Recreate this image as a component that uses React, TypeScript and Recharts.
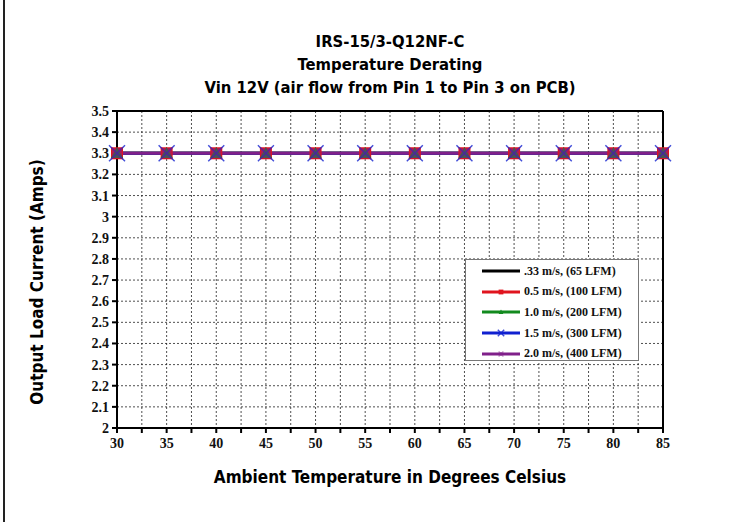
import React from "react";
import {
  LineChart,
  Line,
  XAxis,
  YAxis,
  CartesianGrid,
  Legend,
  ReferenceLine,
} from "recharts";

const temps = [30, 35, 40, 45, 50, 55, 60, 65, 70, 75, 80, 85];
const flow033 = [3.3, 3.3, 3.3, 3.3, 3.3, 3.3, 3.3, 3.3, 3.3, 3.3, 3.3, 3.3];
const flow05 = [3.3, 3.3, 3.3, 3.3, 3.3, 3.3, 3.3, 3.3, 3.3, 3.3, 3.3, 3.3];
const flow10 = [3.3, 3.3, 3.3, 3.3, 3.3, 3.3, 3.3, 3.3, 3.3, 3.3, 3.3, 3.3];
const flow15 = [3.3, 3.3, 3.3, 3.3, 3.3, 3.3, 3.3, 3.3, 3.3, 3.3, 3.3, 3.3];
const flow20 = [3.3, 3.3, 3.3, 3.3, 3.3, 3.3, 3.3, 3.3, 3.3, 3.3, 3.3, 3.3];

const xTicks = [30, 32.5, 35, 37.5, 40, 42.5, 45, 47.5, 50, 52.5, 55, 57.5, 60, 62.5, 65, 67.5, 70, 72.5, 75, 77.5, 80, 82.5, 85];
const yTicks = [2, 2.1, 2.2, 2.3, 2.4, 2.5, 2.6, 2.7, 2.8, 2.9, 3, 3.1, 3.2, 3.3, 3.4, 3.5];
const yMinorTicks = [2, 2.05, 2.1, 2.15, 2.2, 2.25, 2.3, 2.35, 2.4, 2.45, 2.5, 2.55, 2.6, 2.65, 2.7, 2.75, 2.8, 2.85, 2.9, 2.95, 3, 3.05, 3.1, 3.15, 3.2, 3.25, 3.3, 3.35, 3.4, 3.45, 3.5];

const series = [
  { key: "s033", name: ".33 m/s, (65 LFM)", color: "#000000", values: flow033, marker: "dot" },
  { key: "s05", name: "0.5 m/s, (100 LFM)", color: "#e0141e", values: flow05, marker: "square" },
  { key: "s10", name: "1.0 m/s, (200 LFM)", color: "#128a1e", values: flow10, marker: "triangle" },
  { key: "s15", name: "1.5 m/s, (300 LFM)", color: "#1020d0", values: flow15, marker: "cross" },
  { key: "s20", name: "2.0 m/s, (400 LFM)", color: "#80208a", values: flow20, marker: "star" },
];

const data = temps.map((t, i) => {
  const row: Record<string, number> = { temp: t };
  series.forEach((s) => {
    row[s.key] = s.values[i];
  });
  return row;
});

const serif = '"Liberation Serif", "Times New Roman", serif';
const narrow = '"Liberation Sans Narrow", "DejaVu Sans Condensed", "Arial Narrow", sans-serif';

const Marker = ({ cx, cy, kind, color, size = 1 }: any) => {
  if (cx == null || cy == null) return null;
  const r = 6 * size;
  if (kind === "square")
    return <rect x={cx - r} y={cy - r} width={2 * r} height={2 * r} fill={color} />;
  if (kind === "triangle")
    return (
      <polygon
        points={`${cx},${cy - r} ${cx - r},${cy + r * 0.8} ${cx + r},${cy + r * 0.8}`}
        fill={color}
      />
    );
  if (kind === "cross") {
    const d = 8 * size;
    return (
      <g stroke={color} strokeWidth={1.4} opacity={0.8}>
        <line x1={cx - d} y1={cy - d} x2={cx + d} y2={cy + d} />
        <line x1={cx - d} y1={cy + d} x2={cx + d} y2={cy - d} />
      </g>
    );
  }
  if (kind === "star") {
    const d = 6 * size;
    return (
      <g stroke={color} strokeWidth={1.4} opacity={0.5}>
        <line x1={cx - d} y1={cy - d} x2={cx + d} y2={cy + d} />
        <line x1={cx - d} y1={cy + d} x2={cx + d} y2={cy - d} />
        <rect x={cx - 5 * size} y={cy - 5 * size} width={10 * size} height={10 * size} fill={color} stroke="none" />
      </g>
    );
  }
  return <circle cx={cx} cy={cy} r={2 * size} fill={color} />;
};

const LegendBox = () => (
  <div
    style={{
      width: 174,
      height: 102,
      border: "1px solid #777",
      background: "#fff",
      boxSizing: "border-box",
      paddingTop: 1,
    }}
  >
    {series.map((s) => (
      <div key={s.key} style={{ display: "flex", alignItems: "center", height: 20.6 }}>
        <svg width={56} height={12} style={{ flex: "none" }}>
          <line x1={16} y1={6} x2={54} y2={6} stroke={s.color} strokeWidth={3} />
          <Marker cx={35} cy={6} kind={s.marker} color={s.color} size={0.4} />
        </svg>
        <span
          style={{
            fontFamily: serif,
            fontWeight: "bold",
            fontSize: 12,
            color: "#111",
            marginLeft: 2,
            whiteSpace: "nowrap",
          }}
        >
          {s.name}
        </span>
      </div>
    ))}
  </div>
);

const xFormat = (v: number) => (v % 5 === 0 ? String(v) : "");
const yFormat = (v: number) => String(Math.round(v * 10) / 10);

export default function App() {
  return (
    <div
      style={{
        position: "absolute",
        left: 0,
        top: 0,
        width: 741,
        height: 522,
        background: "#fff",
        overflow: "hidden",
      }}
    >
      <div
        style={{
          position: "absolute",
          left: 3,
          top: 0,
          width: 2,
          height: 522,
          background: "#222",
        }}
      />
      <div
        style={{
          position: "absolute",
          left: 0,
          top: 30,
          width: 780,
          textAlign: "center",
          fontFamily: narrow,
          fontWeight: "bold",
          fontSize: 16.5,
          lineHeight: "23px",
          color: "#000",
        }}
      >
        <div>IRS-15/3-Q12NF-C</div>
        <div>Temperature Derating</div>
        <div>Vin 12V (air flow from Pin 1 to Pin 3 on PCB)</div>
      </div>
      <div
        style={{
          position: "absolute",
          left: 0,
          top: 467,
          width: 780,
          textAlign: "center",
          fontFamily: narrow,
          fontWeight: "bold",
          fontSize: 17,
          color: "#000",
        }}
      >
        Ambient Temperature in Degrees Celsius
      </div>
      <div
        style={{
          position: "absolute",
          left: 37,
          top: 282,
          transform: "translate(-50%, -50%) rotate(-90deg)",
          whiteSpace: "nowrap",
          fontFamily: narrow,
          fontWeight: "bold",
          fontSize: 17,
          color: "#000",
        }}
      >
        Output Load Current (Amps)
      </div>
      <LineChart
        width={741}
        height={522}
        data={data}
        margin={{ top: 111, right: 78, bottom: 94 - 30, left: 74 }}
        style={{ position: "absolute", left: 0, top: 0 }}
      >
        <CartesianGrid stroke="#222" strokeDasharray="2 2" strokeWidth={0.8} />
        <XAxis
          dataKey="temp"
          type="number"
          domain={[30, 85]}
          ticks={xTicks}
          interval={0}
          tickFormatter={xFormat}
          stroke="#000"
          strokeWidth={2}
          tickSize={5}
          tickMargin={5}
          height={30}
          tick={{ fontFamily: serif, fontWeight: "bold", fontSize: 14, fill: "#111" }}
        />
        <YAxis
          type="number"
          domain={[2, 3.5]}
          ticks={yTicks}
          interval={0}
          tickFormatter={yFormat}
          stroke="#000"
          strokeWidth={2}
          tickSize={5}
          tickMargin={3}
          width={43}
          tick={{ fontFamily: serif, fontWeight: "bold", fontSize: 14, fill: "#111" }}
        />
        <YAxis
          yAxisId="minor"
          type="number"
          domain={[2, 3.5]}
          ticks={yMinorTicks}
          interval={0}
          tick={false}
          axisLine={false}
          tickSize={4}
          stroke="#000"
          width={0}
          mirror
        />
        <ReferenceLine y={3.5} stroke="#000" strokeWidth={2} />
        <ReferenceLine x={85} stroke="#000" strokeWidth={2} />
        {series.map((s) => (
          <Line
            key={`line-${s.key}`}
            dataKey={s.key}
            name={s.name}
            stroke={s.color}
            strokeWidth={3}
            dot={false}
            isAnimationActive={false}
            legendType="none"
          />
        ))}
        {series.map((s) => (
          <Line
            key={`mark-${s.key}`}
            dataKey={s.key}
            stroke="none"
            dot={(p: any) => (
              <Marker key={`${s.key}-${p.index}`} cx={p.cx} cy={p.cy} kind={s.marker} color={s.color} />
            )}
            activeDot={false}
            isAnimationActive={false}
            legendType="none"
          />
        ))}
        <Legend
          layout="vertical"
          align="center"
          verticalAlign="middle"
          content={() => <LegendBox />}
          wrapperStyle={{ position: "absolute", left: 465, top: 259, width: 174, height: 102 }}
        />
      </LineChart>
    </div>
  );
}
